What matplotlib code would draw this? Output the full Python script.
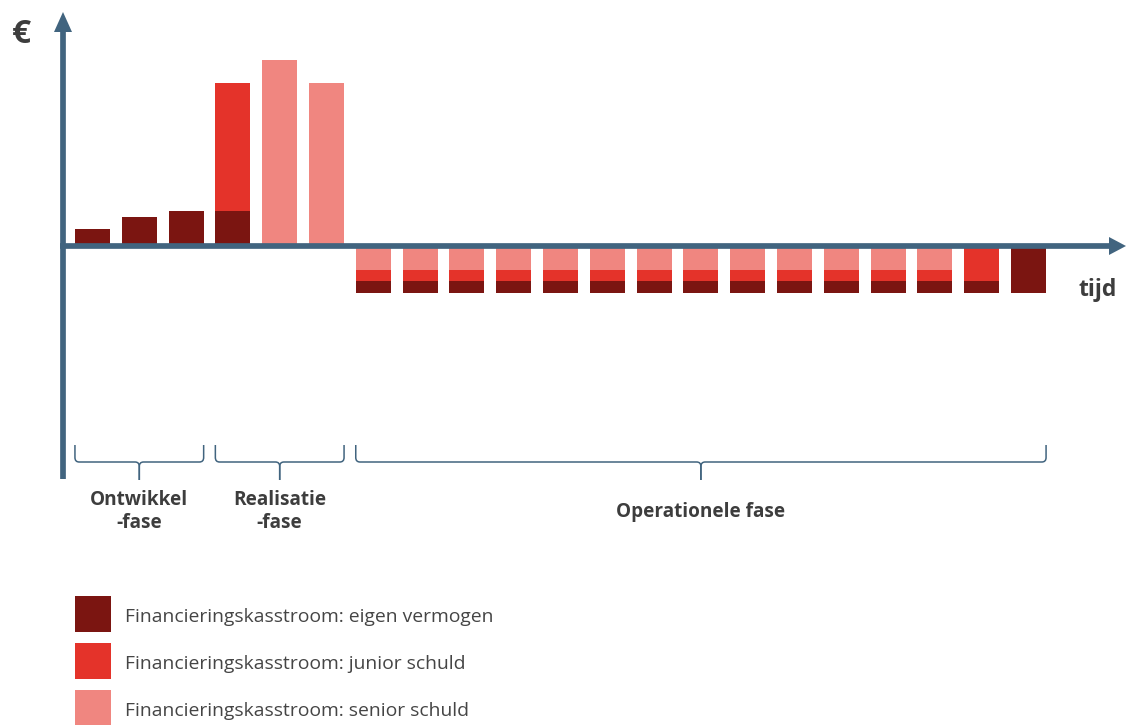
import matplotlib
matplotlib.use("Agg")
import matplotlib.pyplot as plt
import numpy as np
from matplotlib.patches import Rectangle, Polygon, PathPatch
from matplotlib.path import Path
from matplotlib.transforms import Affine2D

# ---- data -------------------------------------------------------------
series_names = [
    "Financieringskasstroom: eigen vermogen",
    "Financieringskasstroom: junior schuld",
    "Financieringskasstroom: senior schuld",
]
eigen_vermogen = [17, 29, 35, 35, 0, 0] + [-12] * 13 + [-12, -47]
junior_schuld = [0, 0, 0, 128, 0, 0] + [-11] * 13 + [-35, 0]
senior_schuld = [0, 0, 0, 0, 186, 163] + [-24] * 13 + [0, 0]

phase_names = ["Ontwikkel\n-fase", "Realisatie\n-fase", "Operationele fase"]
phase_ranges = [(0, 2), (3, 5), (6, 20)]

axis_label_y = "€"
axis_label_x = "tijd"

# ---- style ------------------------------------------------------------
C_EIGEN = "#7B1511"
C_JUNIOR = "#E4332A"
C_SENIOR = "#F08680"
C_AXIS = "#41647F"
C_TEXT = "#3D3D3D"
C_LEGTEXT = "#454545"
colors = [C_EIGEN, C_JUNIOR, C_SENIOR]

W, H = 1126, 725
fig = plt.figure(figsize=(W / 100, H / 100), dpi=100)
px = Affine2D().scale(1 / W, -1 / H).translate(0, 1) + fig.transFigure

ax = fig.add_axes([0, 0, 1, 1])
ax.set_xlim(-1.9765, 22.083)
ax.set_ylim(-479, 246)
ax.axis("off")

FONT = "Open Sans"

# ---- stacked bars -----------------------------------------------------
values = [np.array(eigen_vermogen, float), np.array(junior_schuld, float),
          np.array(senior_schuld, float)]
x = np.arange(len(eigen_vermogen))
bar_w = 0.75
pos_bottom = np.zeros(len(x))
neg_bottom = np.zeros(len(x))
# positive flows stack eigen -> junior -> senior upward
for vals, col in zip(values, colors):
    p = np.where(vals > 0, vals, 0)
    ax.bar(x, p, width=bar_w, bottom=pos_bottom, color=col, linewidth=0, zorder=2)
    pos_bottom += p
# negative flows stack senior -> junior -> eigen downward
for vals, col in zip(values[::-1], colors[::-1]):
    n = np.where(vals < 0, vals, 0)
    ax.bar(x, n, width=bar_w, bottom=neg_bottom, color=col, linewidth=0, zorder=2)
    neg_bottom += n

# ---- axes with arrows (pixel space) -----------------------------------
lw_axis = 5.7 * 72 / 100
fig.add_artist(plt.Line2D([63, 63], [479, 30], transform=px, color=C_AXIS,
                          lw=lw_axis, solid_capstyle="butt", zorder=5))
fig.add_artist(Polygon([(54, 32), (72, 32), (63, 12)], closed=True,
                       transform=px, color=C_AXIS, lw=0, zorder=5))
fig.add_artist(plt.Line2D([60.2, 1111], [246, 246], transform=px, color=C_AXIS,
                          lw=lw_axis, solid_capstyle="butt", zorder=5))
fig.add_artist(Polygon([(1109, 237), (1109, 255), (1126, 246)], closed=True,
                       transform=px, color=C_AXIS, lw=0, zorder=5))

fig.text(21.5, 43, axis_label_y, transform=px, ha="center", va="baseline",
         fontsize=24, fontweight="bold", color=C_TEXT, family=FONT)
fig.text(1097.5, 296, axis_label_x, transform=px, ha="center", va="baseline",
         fontsize=16.5, fontweight="bold", color=C_TEXT, family=FONT)

# ---- phase braces -----------------------------------------------------
y_top, y_mid, y_tip = -199, -216, -234
rx, ry = 0.09, 4.5
for (i0, i1), name in zip(phase_ranges, phase_names):
    xl = i0 - bar_w / 2
    xr = i1 + bar_w / 2
    xc = (xl + xr) / 2
    for xe, s in ((xl, 1), (xr, -1)):
        verts = [(xe, y_top), (xe, y_mid + ry), (xe, y_mid), (xe + s * rx, y_mid),
                 (xc - s * rx, y_mid), (xc, y_mid), (xc, y_mid - ry), (xc, y_tip)]
        codes = [Path.MOVETO, Path.LINETO, Path.CURVE3, Path.CURVE3,
                 Path.LINETO, Path.CURVE3, Path.CURVE3, Path.LINETO]
        ax.add_patch(PathPatch(Path(verts, codes), fill=False, edgecolor=C_AXIS,
                               lw=1.1, zorder=3))
    lines = name.split("\n")
    # baselines (pixel rows) for one- or two-line phase labels
    baselines = [517] if len(lines) == 1 else [505, 528]
    for line, base in zip(lines, baselines):
        ax.text(xc, 246 - base, line, ha="center", va="baseline", fontsize=13.7,
                fontweight="bold", color=C_TEXT, family=FONT)

# ---- legend -----------------------------------------------------------
for k, (name, col) in enumerate(zip(series_names, colors)):
    top = 596 + 47 * k
    fig.add_artist(Rectangle((75, top), 36, 36, transform=px, color=col, lw=0))
    fig.text(125, top + 26, name, transform=px, ha="left", va="baseline",
             fontsize=13.9, color=C_LEGTEXT, family=FONT)

fig.savefig("out.png", dpi=100)
